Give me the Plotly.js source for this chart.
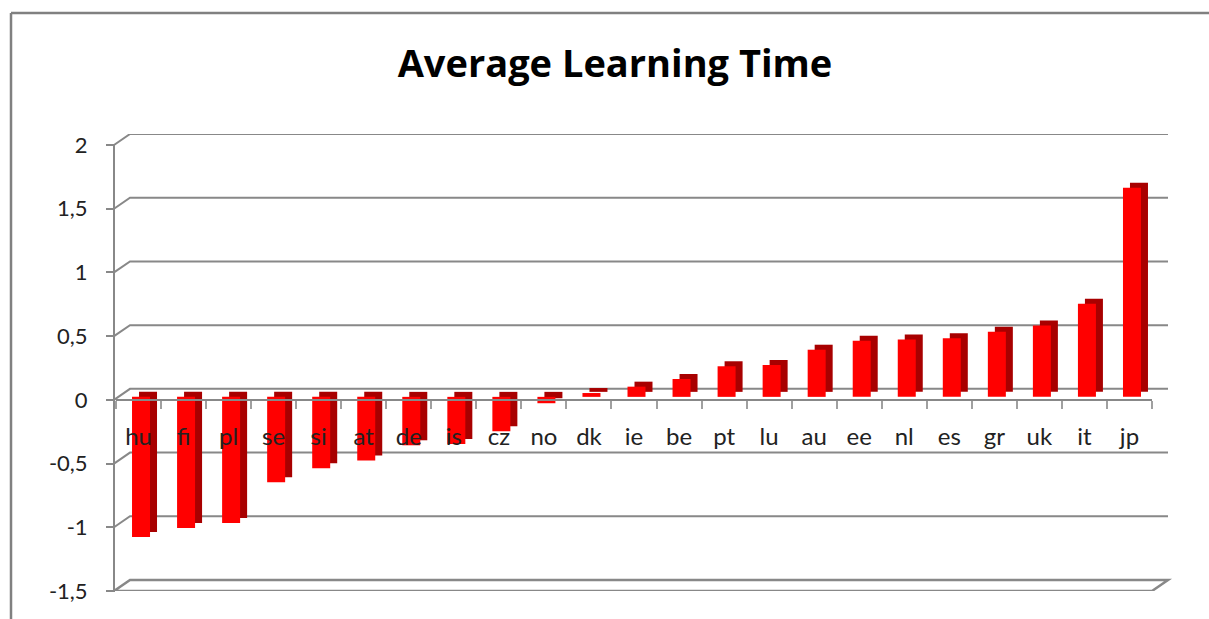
<!DOCTYPE html>
<html><head><meta charset="utf-8">
<script src="https://cdn.plot.ly/plotly-3.0.1.min.js"></script>
<style>html,body{margin:0;padding:0;background:#fff;} #chart{width:1209px;height:619px;}</style>
</head><body><div id="chart"></div>
<script>
// ---- data ----
const countries = ['hu','fi','pl','se','si','at','de','is','cz','no','dk','ie','be','pt','lu','au','ee','nl','es','gr','uk','it','jp'];
const learningTime = [-1.10,-1.03,-0.99,-0.67,-0.56,-0.50,-0.38,-0.37,-0.27,-0.05,0.03,0.08,0.14,0.24,0.25,0.37,0.44,0.45,0.46,0.51,0.56,0.73,1.64];
const yTickValues = [-1.5,-1,-0.5,0,0.5,1,1.5,2];
const yTickLabels = ['-1,5','-1','-0,5','0','0,5','1','1,5','2'];

// ---- geometry / style ----
const W=1209, H=619, L=116, R=57, T=134, B=28;
const plotW = W-L-R, plotH = H-T-B;
const yMin = -1.5, pxPerUnit = 446/3.5;
const yMax = yMin + plotH/pxPerUnit;
const depthX = 16, depthY = 11;
const gridColor = '#888888';
const font = 'Lato, "Liberation Sans", sans-serif';
const catW = plotW / countries.length;

const backBox = {
  type:'bar', x:countries, y:learningTime, base:8/pxPerUnit,
  offset: 0.5/catW, width: 18/catW,
  marker:{color:'#A80000', line:{width:0}}, hoverinfo:'skip', showlegend:false
};
const frontFace = {
  type:'bar', x:countries, y:learningTime, base:3/pxPerUnit,
  offset: -6.5/catW, width: 18/catW,
  marker:{color:'#FF0000', line:{width:0}}, showlegend:false
};

const shapes = [];
// back-wall gridlines with 3D connectors
yTickValues.forEach(v => {
  let path;
  if (v === yMin) {
    path = `M -2,0 L ${plotW},0 L ${plotW+depthX},${depthY} L ${depthX-2},${depthY} Z`;
  } else {
    path = `M -2,0 L ${depthX-2},${depthY} L ${plotW+depthX},${depthY}`;
  }
  shapes.push({type:'path', xref:'paper', yref:'y', xsizemode:'pixel', ysizemode:'pixel',
    xanchor:0, yanchor:v, path:path, line:{color:gridColor, width: v===yMin?2.5:2}, layer:'below'});
});
// front vertical axis line
shapes.push({type:'line', xref:'paper', yref:'y', xsizemode:'pixel', xanchor:0, x0:-2, x1:-2,
  y0:yMin, y1:2, line:{color:gridColor, width:2}});
// outer chart border (left & top)
const px2paperX = px => (px - L)/plotW;
const py2paperY = py => (H - B - py)/plotH;
shapes.push({type:'line', xref:'paper', yref:'paper', x0:px2paperX(11), x1:px2paperX(11),
  y0:py2paperY(13), y1:py2paperY(H+5), line:{color:'#808080', width:2.5}});
shapes.push({type:'line', xref:'paper', yref:'paper', x0:px2paperX(11), x1:px2paperX(W+5),
  y0:py2paperY(13), y1:py2paperY(13), line:{color:'#808080', width:2.5}});

const layout = {
  width:W, height:H,
  margin:{l:L, r:R, t:T, b:B, pad:0},
  paper_bgcolor:'#fff', plot_bgcolor:'rgba(0,0,0,0)',
  barmode:'overlay',
  title:{text:'Average Learning Time', font:{family:'"Open Sans", Lato, sans-serif', size:38, color:'#000', weight:700},
    xref:'container', x:615/W, xanchor:'center', yref:'container', y:1-64/H, yanchor:'middle'},
  xaxis:{type:'category', anchor:'free', position:(0-yMin)/(yMax-yMin),
    showline:true, linecolor:gridColor, linewidth:2, showgrid:false,
    ticks:'outside', tickson:'boundaries', ticklen:8, tickwidth:2, tickcolor:'#A0A0A0',
    ticklabelstandoff:15, tickfont:{family:font, size:24, color:'#222'}, fixedrange:true},
  yaxis:{range:[yMin, yMax], tickvals:yTickValues, ticktext:yTickLabels,
    showgrid:false, zeroline:false, showline:false,
    ticks:'outside', ticklen:9, tickwidth:2, tickcolor:gridColor,
    ticklabelstandoff:14, tickfont:{family:font, size:22, color:'#222'}, fixedrange:true},
  shapes:shapes
};
Plotly.newPlot('chart', [backBox, frontFace], layout, {displayModeBar:false, staticPlot:true});
</script>
</body></html>
